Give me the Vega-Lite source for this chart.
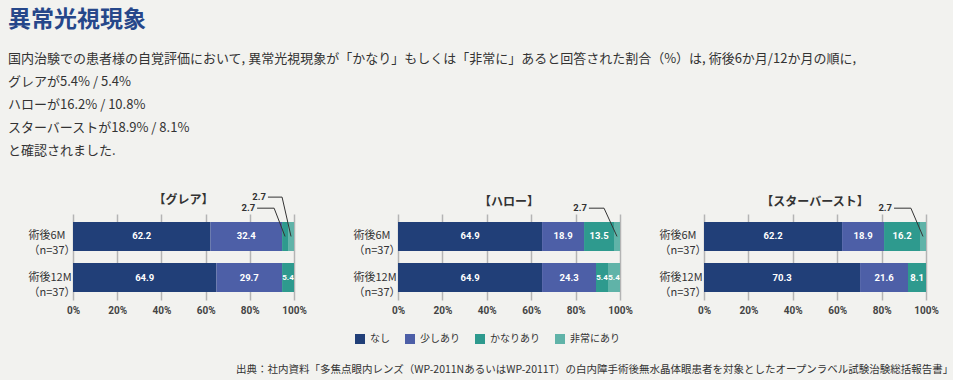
{
  "$schema": "https://vega.github.io/schema/vega-lite/v6.json",
  "padding": {"left": 8, "top": 9, "right": 8, "bottom": 4},
  "background": "#f2f2ef",
  "title": {
    "text": "異常光視現象",
    "subtitle": [
      "国内治験での患者様の自覚評価において, 異常光視現象が「かなり」もしくは「非常に」あると回答された割合（%）は, 術後6か月/12か月の順に,",
      "グレアが5.4% / 5.4%",
      "ハローが16.2% / 10.8%",
      "スターバーストが18.9% / 8.1%",
      "と確認されました."
    ],
    "anchor": "start",
    "frame": "bounds",
    "fontSize": 23,
    "fontWeight": "bold",
    "color": "#26478a",
    "subtitleFontSize": 13,
    "subtitleColor": "#333333",
    "subtitleFontWeight": "normal",
    "subtitleLineHeight": 23,
    "subtitlePadding": 21,
    "offset": 34
  },
  "datasets": {
    "bars": [
      {"p": "グレア", "term": "術後6M", "cat": "なし", "v": 62.2},
      {"p": "グレア", "term": "術後6M", "cat": "少しあり", "v": 32.4},
      {"p": "グレア", "term": "術後6M", "cat": "かなりあり", "v": 2.7},
      {"p": "グレア", "term": "術後6M", "cat": "非常にあり", "v": 2.7},
      {"p": "グレア", "term": "術後12M", "cat": "なし", "v": 64.9},
      {"p": "グレア", "term": "術後12M", "cat": "少しあり", "v": 29.7},
      {"p": "グレア", "term": "術後12M", "cat": "かなりあり", "v": 5.4},
      {"p": "ハロー", "term": "術後6M", "cat": "なし", "v": 64.9},
      {"p": "ハロー", "term": "術後6M", "cat": "少しあり", "v": 18.9},
      {"p": "ハロー", "term": "術後6M", "cat": "かなりあり", "v": 13.5},
      {"p": "ハロー", "term": "術後6M", "cat": "非常にあり", "v": 2.7},
      {"p": "ハロー", "term": "術後12M", "cat": "なし", "v": 64.9},
      {"p": "ハロー", "term": "術後12M", "cat": "少しあり", "v": 24.3},
      {"p": "ハロー", "term": "術後12M", "cat": "かなりあり", "v": 5.4},
      {"p": "ハロー", "term": "術後12M", "cat": "非常にあり", "v": 5.4},
      {"p": "スターバースト", "term": "術後6M", "cat": "なし", "v": 62.2},
      {"p": "スターバースト", "term": "術後6M", "cat": "少しあり", "v": 18.9},
      {"p": "スターバースト", "term": "術後6M", "cat": "かなりあり", "v": 16.2},
      {"p": "スターバースト", "term": "術後6M", "cat": "非常にあり", "v": 2.7},
      {"p": "スターバースト", "term": "術後12M", "cat": "なし", "v": 70.3},
      {"p": "スターバースト", "term": "術後12M", "cat": "少しあり", "v": 21.6},
      {"p": "スターバースト", "term": "術後12M", "cat": "かなりあり", "v": 8.1}
    ],
    "ann": [
      {"p": "グレア", "id": "g1", "o": 0, "x": 88.2, "h": 2.51, "label": "2.7"},
      {"p": "グレア", "id": "g1", "o": 1, "x": 94.6, "h": 2.51},
      {"p": "グレア", "id": "g1", "o": 2, "x": 98.65, "h": 1.55},
      {"p": "グレア", "id": "g2", "o": 0, "x": 83.3, "h": 2.24, "label": "2.7"},
      {"p": "グレア", "id": "g2", "o": 1, "x": 91.0, "h": 2.24},
      {"p": "グレア", "id": "g2", "o": 2, "x": 95.95, "h": 1.55},
      {"p": "ハロー", "id": "h1", "o": 0, "x": 86.0, "h": 2.24, "label": "2.7"},
      {"p": "ハロー", "id": "h1", "o": 1, "x": 92.8, "h": 2.24},
      {"p": "ハロー", "id": "h1", "o": 2, "x": 98.65, "h": 1.55},
      {"p": "スターバースト", "id": "s1", "o": 0, "x": 85.6, "h": 2.24, "label": "2.7"},
      {"p": "スターバースト", "id": "s1", "o": 1, "x": 93.2, "h": 2.24},
      {"p": "スターバースト", "id": "s1", "o": 2, "x": 98.65, "h": 1.55}
    ]
  },
  "vconcat": [
    {
      "title": {
        "text": "出典：社内資料「多焦点眼内レンズ（WP-2011NあるいはWP-2011T）の白内障手術後無水晶体眼患者を対象としたオープンラベル試験治験総括報告書」",
        "orient": "bottom",
        "anchor": "end",
        "frame": "bounds",
        "fontSize": 10.5,
        "fontWeight": "normal",
        "color": "#333333",
        "offset": 21,
        "dx": 15
      },
      "resolve": {"legend": {"color": "independent"}},
      "hconcat": [
        {
          "width": 221, "height": 86,
          "title": {"text": "【グレア】", "frame": "group", "offset": -15},
          "resolve": {"scale": {"y": "independent"}},
          "layer": [
            {
              "data": {"name": "bars"},
              "transform": [
                {"filter": "datum.p === 'グレア'"},
                {"calculate": "indexof(['なし','少しあり','かなりあり','非常にあり'], datum.cat)", "as": "ord"},
                {"stack": "v", "groupby": ["term"], "sort": [{"field": "ord", "order": "ascending"}], "as": ["v0", "v1"]},
                {"calculate": "(datum.v0 + datum.v1) / 2", "as": "mid"}
              ],
              "encoding": {
                "y": {"field": "term", "type": "nominal", "sort": ["術後6M", "術後12M"], "scale": {"paddingInner": 0.293, "paddingOuter": 0.195}, "axis": {"title": null, "labelExpr": "[datum.value, '（n=37）']", "minExtent": 65}}
              },
              "layer": [
                {
                  "mark": {"type": "bar"},
                  "encoding": {
                    "x": {"field": "v0", "type": "quantitative", "scale": {"domain": [0, 100], "nice": false}, "axis": {"title": null, "values": [0, 20, 40, 60, 80, 100], "labelExpr": "datum.value + '%'"}},
                    "x2": {"field": "v1"},
                    "color": {"field": "cat", "type": "nominal", "sort": ["なし", "少しあり", "かなりあり", "非常にあり"], "scale": {"domain": ["なし", "少しあり", "かなりあり", "非常にあり"], "range": ["#213f78", "#4d5fa7", "#2e9a8e", "#60b3a8"]}, "legend": null}
                  }
                },
                {
                  "transform": [{"filter": "datum.v >= 5"}],
                  "mark": {"type": "text", "color": "white", "font": "Roboto", "fontWeight": "bold"},
                  "encoding": {
                    "x": {"field": "mid", "type": "quantitative"},
                    "text": {"field": "v", "type": "quantitative", "format": ".1f"},
                    "size": {"condition": {"test": "datum.v < 6", "value": 8}, "value": 9.5}
                  }
                }
              ]
            },
            {
              "data": {"name": "ann"},
              "transform": [{"filter": "datum.p === 'グレア'"}],
              "encoding": {
                "x": {"field": "x", "type": "quantitative", "scale": {"domain": [0, 100], "nice": false}, "axis": {"title": null, "values": [0, 20, 40, 60, 80, 100], "labelExpr": "datum.value + '%'"}},
                "y": {"field": "h", "type": "quantitative", "scale": {"domain": [0, 2.098], "nice": false, "zero": false}, "axis": null}
              },
              "layer": [
                {"mark": {"type": "line", "color": "#333333", "strokeWidth": 1}, "encoding": {"detail": {"field": "id"}, "order": {"field": "o", "type": "quantitative"}}},
                {"transform": [{"filter": "datum.o === 0"}], "mark": {"type": "text", "align": "right", "dx": -2, "color": "#333333", "font": "Roboto", "fontWeight": "bold", "fontSize": 9.5}, "encoding": {"text": {"field": "label"}}}
              ]
            }
          ]
        },
        {
          "width": 222, "height": 86,
          "title": {"text": "【ハロー】", "frame": "group", "offset": -6},
          "resolve": {"scale": {"y": "independent"}},
          "layer": [
            {
              "data": {"name": "bars"},
              "transform": [
                {"filter": "datum.p === 'ハロー'"},
                {"calculate": "indexof(['なし','少しあり','かなりあり','非常にあり'], datum.cat)", "as": "ord"},
                {"stack": "v", "groupby": ["term"], "sort": [{"field": "ord", "order": "ascending"}], "as": ["v0", "v1"]},
                {"calculate": "(datum.v0 + datum.v1) / 2", "as": "mid"}
              ],
              "encoding": {
                "y": {"field": "term", "type": "nominal", "sort": ["術後6M", "術後12M"], "scale": {"paddingInner": 0.293, "paddingOuter": 0.195}, "axis": {"title": null, "labelExpr": "[datum.value, '（n=37）']", "minExtent": 65}}
              },
              "layer": [
                {
                  "mark": {"type": "bar"},
                  "encoding": {
                    "x": {"field": "v0", "type": "quantitative", "scale": {"domain": [0, 100], "nice": false}, "axis": {"title": null, "values": [0, 20, 40, 60, 80, 100], "labelExpr": "datum.value + '%'"}},
                    "x2": {"field": "v1"},
                    "color": {"field": "cat", "type": "nominal", "sort": ["なし", "少しあり", "かなりあり", "非常にあり"], "scale": {"domain": ["なし", "少しあり", "かなりあり", "非常にあり"], "range": ["#213f78", "#4d5fa7", "#2e9a8e", "#60b3a8"]},
                      "legend": {"orient": "none", "legendX": -43, "legendY": 120, "direction": "horizontal", "title": null, "symbolType": "square", "symbolSize": 100, "symbolStrokeWidth": 0, "symbolOpacity": 1, "labelFontSize": 10, "labelColor": "#333333", "columnPadding": 15, "labelOffset": 5}}
                  }
                },
                {
                  "transform": [{"filter": "datum.v >= 5"}],
                  "mark": {"type": "text", "color": "white", "font": "Roboto", "fontWeight": "bold"},
                  "encoding": {
                    "x": {"field": "mid", "type": "quantitative"},
                    "text": {"field": "v", "type": "quantitative", "format": ".1f"},
                    "size": {"condition": {"test": "datum.v < 6", "value": 8}, "value": 9.5}
                  }
                }
              ]
            },
            {
              "data": {"name": "ann"},
              "transform": [{"filter": "datum.p === 'ハロー'"}],
              "encoding": {
                "x": {"field": "x", "type": "quantitative", "scale": {"domain": [0, 100], "nice": false}, "axis": {"title": null, "values": [0, 20, 40, 60, 80, 100], "labelExpr": "datum.value + '%'"}},
                "y": {"field": "h", "type": "quantitative", "scale": {"domain": [0, 2.098], "nice": false, "zero": false}, "axis": null}
              },
              "layer": [
                {"mark": {"type": "line", "color": "#333333", "strokeWidth": 1}, "encoding": {"detail": {"field": "id"}, "order": {"field": "o", "type": "quantitative"}}},
                {"transform": [{"filter": "datum.o === 0"}], "mark": {"type": "text", "align": "right", "dx": -2, "color": "#333333", "font": "Roboto", "fontWeight": "bold", "fontSize": 9.5}, "encoding": {"text": {"field": "label"}}}
              ]
            }
          ]
        },
        {
          "width": 222, "height": 86,
          "title": {"text": "【スターバースト】", "frame": "group", "offset": -6},
          "resolve": {"scale": {"y": "independent"}},
          "layer": [
            {
              "data": {"name": "bars"},
              "transform": [
                {"filter": "datum.p === 'スターバースト'"},
                {"calculate": "indexof(['なし','少しあり','かなりあり','非常にあり'], datum.cat)", "as": "ord"},
                {"stack": "v", "groupby": ["term"], "sort": [{"field": "ord", "order": "ascending"}], "as": ["v0", "v1"]},
                {"calculate": "(datum.v0 + datum.v1) / 2", "as": "mid"}
              ],
              "encoding": {
                "y": {"field": "term", "type": "nominal", "sort": ["術後6M", "術後12M"], "scale": {"paddingInner": 0.293, "paddingOuter": 0.195}, "axis": {"title": null, "labelExpr": "[datum.value, '（n=37）']", "minExtent": 44}}
              },
              "layer": [
                {
                  "mark": {"type": "bar"},
                  "encoding": {
                    "x": {"field": "v0", "type": "quantitative", "scale": {"domain": [0, 100], "nice": false}, "axis": {"title": null, "values": [0, 20, 40, 60, 80, 100], "labelExpr": "datum.value + '%'"}},
                    "x2": {"field": "v1"},
                    "color": {"field": "cat", "type": "nominal", "sort": ["なし", "少しあり", "かなりあり", "非常にあり"], "scale": {"domain": ["なし", "少しあり", "かなりあり", "非常にあり"], "range": ["#213f78", "#4d5fa7", "#2e9a8e", "#60b3a8"]}, "legend": null}
                  }
                },
                {
                  "transform": [{"filter": "datum.v >= 5"}],
                  "mark": {"type": "text", "color": "white", "font": "Roboto", "fontWeight": "bold"},
                  "encoding": {
                    "x": {"field": "mid", "type": "quantitative"},
                    "text": {"field": "v", "type": "quantitative", "format": ".1f"},
                    "size": {"condition": {"test": "datum.v < 6", "value": 8}, "value": 9.5}
                  }
                }
              ]
            },
            {
              "data": {"name": "ann"},
              "transform": [{"filter": "datum.p === 'スターバースト'"}],
              "encoding": {
                "x": {"field": "x", "type": "quantitative", "scale": {"domain": [0, 100], "nice": false}, "axis": {"title": null, "values": [0, 20, 40, 60, 80, 100], "labelExpr": "datum.value + '%'"}},
                "y": {"field": "h", "type": "quantitative", "scale": {"domain": [0, 2.098], "nice": false, "zero": false}, "axis": null}
              },
              "layer": [
                {"mark": {"type": "line", "color": "#333333", "strokeWidth": 1}, "encoding": {"detail": {"field": "id"}, "order": {"field": "o", "type": "quantitative"}}},
                {"transform": [{"filter": "datum.o === 0"}], "mark": {"type": "text", "align": "right", "dx": -2, "color": "#333333", "font": "Roboto", "fontWeight": "bold", "fontSize": 9.5}, "encoding": {"text": {"field": "label"}}}
              ]
            }
          ]
        }
      ]
    }
  ],
  "config": {
    "font": "Noto Sans CJK JP",
    "view": {"stroke": null},
    "concat": {"spacing": 26},
    "title": {"fontSize": 12, "fontWeight": "bold", "color": "#333333"},
    "axisX": {"grid": true, "gridColor": "#b4b4b4", "gridWidth": 1.5, "domain": false, "ticks": false, "labelFlush": false, "labelFont": "Roboto", "labelFontWeight": "bold", "labelFontSize": 10, "labelColor": "#444444", "labelPadding": 5},
    "axisY": {"grid": false, "domain": false, "ticks": false, "labelFontSize": 11, "labelColor": "#333333", "labelAlign": "left", "labelPadding": 45, "labelLineHeight": 15}
  }
}
